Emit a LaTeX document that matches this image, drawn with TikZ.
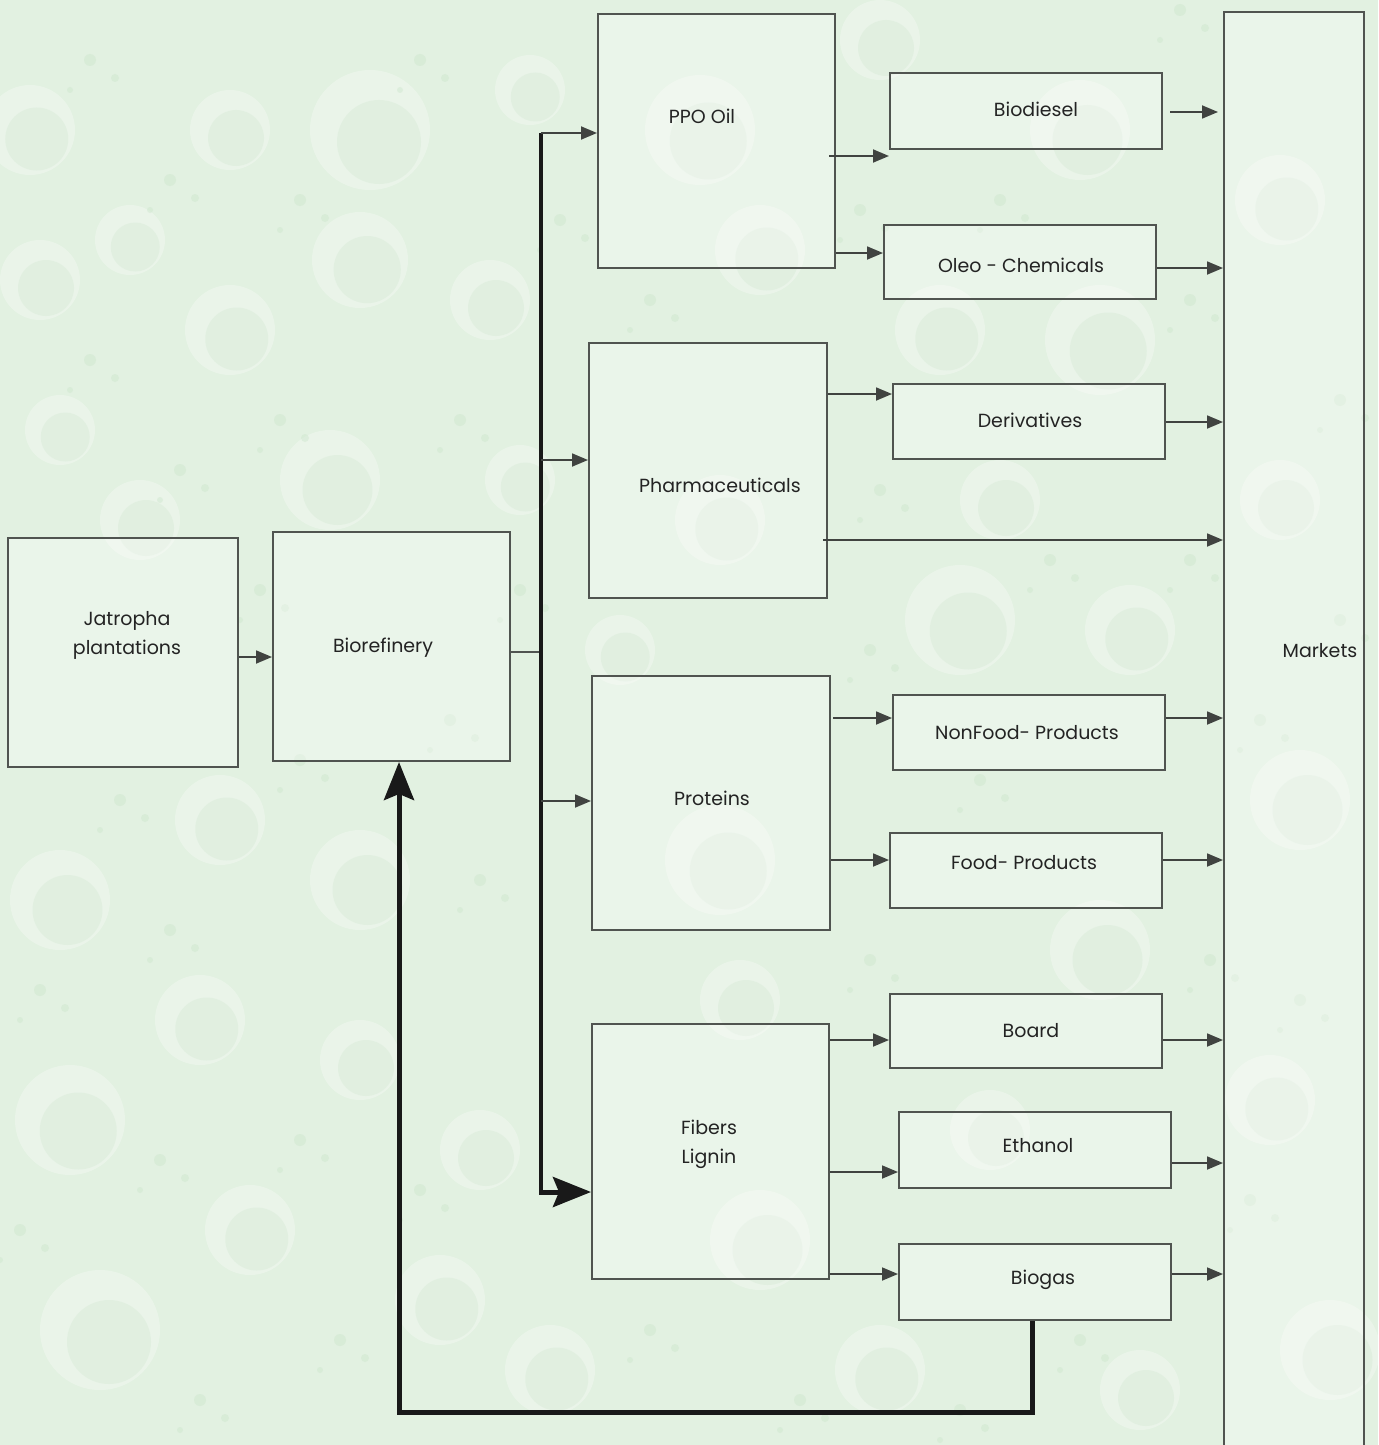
\documentclass[tikz,border=0pt]{standalone}
\usepackage{fontspec}
\setmainfont{Poppins}
\usetikzlibrary{arrows.meta}
\definecolor{bgc}{RGB}{226,241,225}
\definecolor{boxc}{RGB}{80,84,80}
\definecolor{txtc}{RGB}{35,35,35}
\definecolor{bubc}{RGB}{205,230,205}
\tikzset{
  box/.style={draw=boxc, line width=1pt, fill=white, fill opacity=0.3, text opacity=1, inner sep=0pt},
  lbl/.style={text=txtc, font=\fontsize{9.5}{14.5}\selectfont, align=center, inner sep=0pt},
  arr/.style={draw=boxc!80!black, line width=0.9pt, -{Triangle[length=8pt,width=6.5pt]}},
  bigarr/.style={draw=black!90, line width=2.5pt, -{Stealth[length=19pt,width=15pt,inset=3pt]}},
  bus/.style={draw=black!90, line width=2pt},
  bub/.style={fill=white, opacity=0.28},
  bubin/.style={fill=bubc, opacity=0.3},
  dot/.style={fill=bubc, opacity=0.45}
}
\newcommand\mybox[5]{\node[box, minimum width={(#4-#2)*0.5pt}, minimum height={(#5-#3)*0.5pt}] (#1) at ({(#2+#4)/2},{(#3+#5)/2}) {};}
\begin{document}
\begin{tikzpicture}[x=0.5pt,y=-0.5pt]
\fill[bgc] (0,0) rectangle (1378,1445);
\useasboundingbox (0,0) rectangle (1378,1445);
% background bubbles
\foreach \x/\y/\r in {30/130/45, 230/130/40, 370/130/60, 130/240/35, 40/280/40, 230/330/45, 360/260/48, 60/430/35, 140/520/40, 330/480/50, 490/300/40, 520/480/35, 700/130/55, 760/250/45, 880/40/40, 1080/130/50, 940/330/45, 1100/340/55, 1000/500/40, 720/520/45, 960/620/55, 1130/630/45, 620/650/35, 220/820/45, 60/900/50, 360/880/50, 200/1020/45, 360/1060/40, 70/1120/55, 250/1230/45, 100/1330/60, 480/1150/40, 550/1370/45, 760/1240/50, 880/1370/45, 740/1000/40, 1100/950/50, 1280/200/45, 1280/500/40, 1300/800/50, 1270/1100/45, 1330/1350/50, 990/1130/40, 720/860/55, 530/90/35, 440/1300/45, 1140/1390/40}
  {\fill[bub] (\x,\y) circle (\r); \fill[bubin] (\x+0.15*\r,\y+0.2*\r) circle (0.7*\r);}
\foreach \x/\y in {90/60, 170/180, 300/200, 420/60, 560/220, 90/360, 280/420, 460/420, 180/470, 520/590, 260/590, 120/800, 300/760, 450/720, 40/990, 170/930, 480/880, 300/1140, 160/1160, 420/1190, 20/1230, 340/1340, 200/1400, 650/1330, 800/1400, 960/1410, 1080/1340, 870/960, 980/780, 870/650, 1050/560, 880/490, 1190/560, 1190/300, 1000/200, 860/210, 650/300, 1180/10, 1260/720, 1300/1000, 1250/1200, 1340/400, 1340/620, 1210/960}
  {\fill[dot] (\x,\y) circle (6); \fill[dot] (\x+25,\y+18) circle (4); \fill[dot] (\x-20,\y+30) circle (3);}
% boxes
\mybox{jat}{8}{538}{238}{767}
\mybox{bioref}{273}{532}{510}{761}
\mybox{ppo}{598}{14}{835}{268}
\mybox{biod}{890}{73}{1162}{149}
\mybox{oleo}{884}{225}{1156}{299}
\mybox{pharma}{589}{343}{827}{598}
\mybox{deriv}{893}{384}{1165}{459}
\mybox{prot}{592}{676}{830}{930}
\mybox{nonfood}{893}{695}{1165}{770}
\mybox{food}{890}{833}{1162}{908}
\mybox{fib}{592}{1024}{829}{1279}
\mybox{board}{890}{994}{1162}{1068}
\mybox{eth}{899}{1112}{1171}{1188}
\mybox{biogas}{899}{1244}{1171}{1320}
\mybox{mkt}{1224}{12}{1364}{1470}
% labels
\node[lbl] (tjat) at (127,635) {Jatropha\\plantations};
\node[lbl] (tbioref) at (383,648) {Biorefinery};
\node[lbl] (tppo) at (702,116) {PPO Oil};
\node[lbl] (tbiod) at (1036,109) {Biodiesel};
\node[lbl] (toleo) at (1021,265) {Oleo - Chemicals};
\node[lbl] (tpharma) at (720,485) {Pharmaceuticals};
\node[lbl] (tderiv) at (1030,420) {Derivatives};
\node[lbl] (tprot) at (712,798) {Proteins};
\node[lbl] (tnonfood) at (1027,733) {NonFood- Products};
\node[lbl] (tfood) at (1024,863) {Food- Products};
\node[lbl] (tfib) at (709,1144) {Fibers\\Lignin};
\node[lbl] (tboard) at (1031,1031) {Board};
\node[lbl] (teth) at (1038,1146) {Ethanol};
\node[lbl] (tbiogas) at (1043,1280) {Biogas};
\node[lbl] (tmkt) at (1320,651) {Markets};
% connectors
\coordinate (busT) at (541,133);
\coordinate (busB) at (541,1192);
\coordinate (busM) at (541,652);
\draw[arr] (jat.east |- 0,657) -- (bioref.west |- 0,657);
\draw[draw=boxc, line width=0.9pt] (bioref.east |- busM) -- (busM);
\draw[bus] (busT) -- (busB);
\draw[arr] (busT) -- (ppo.west |- busT);
\draw[arr] (541,460) -- (pharma.west |- 0,460);
\draw[arr] (541,801) -- (prot.west |- 0,801);
\draw[bigarr] ([xshift=-1pt]busB) -- (fib.west |- busB);
\draw[arr] (829,156) -- (biod.west |- 0,156);
\draw[arr] (ppo.east |- 0,253) -- (oleo.west |- 0,253);
\draw[arr] (1170,112) -- (1218,112);
\draw[arr] (oleo.east |- 0,268) -- (mkt.west |- 0,268);
\draw[arr] (pharma.east |- 0,394) -- (deriv.west |- 0,394);
\draw[arr] (823,540) -- (mkt.west |- 0,540);
\draw[arr] (deriv.east |- 0,422) -- (mkt.west |- 0,422);
\draw[arr] (833,718) -- (nonfood.west |- 0,718);
\draw[arr] (prot.east |- 0,860) -- (food.west |- 0,860);
\draw[arr] (nonfood.east |- 0,718) -- (mkt.west |- 0,718);
\draw[arr] (food.east |- 0,860) -- (mkt.west |- 0,860);
\draw[arr] (fib.east |- 0,1040) -- (board.west |- 0,1040);
\draw[arr] (fib.east |- 0,1172) -- (eth.west |- 0,1172);
\draw[arr] (fib.east |- 0,1274) -- (biogas.west |- 0,1274);
\draw[arr] (board.east |- 0,1040) -- (mkt.west |- 0,1040);
\draw[arr] (eth.east |- 0,1163) -- (mkt.west |- 0,1163);
\draw[arr] (biogas.east |- 0,1274) -- (mkt.west |- 0,1274);
\draw[bigarr] (biogas.south -| 1032,0) -- (1032,1412) -- (399,1412) -- (bioref.south -| 399,0);
\end{tikzpicture}
\end{document}
